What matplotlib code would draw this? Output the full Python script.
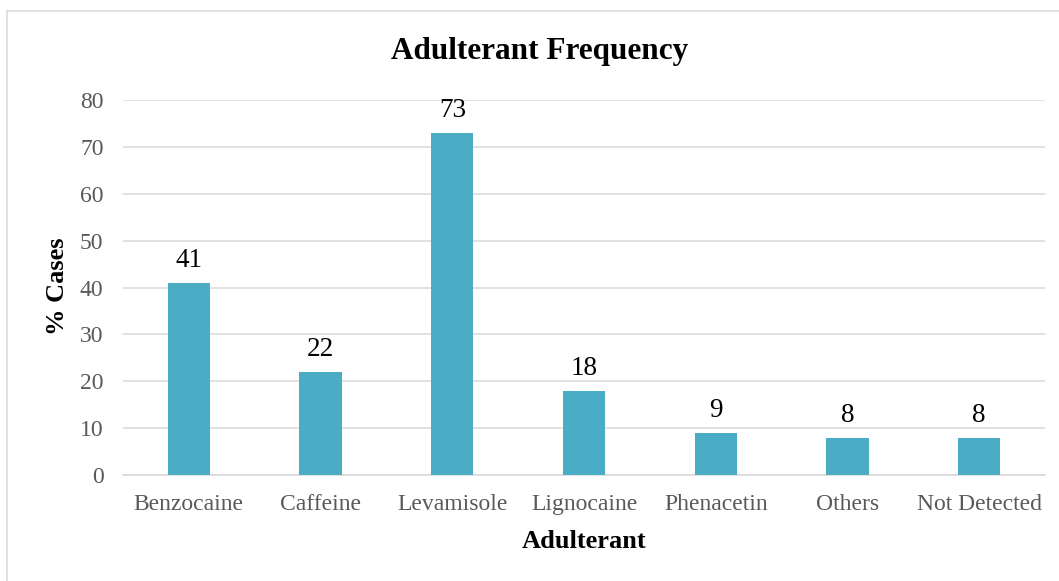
import matplotlib
matplotlib.use("Agg")
import matplotlib.pyplot as plt
from matplotlib.lines import Line2D

categories = ["Benzocaine", "Caffeine", "Levamisole", "Lignocaine", "Phenacetin", "Others", "Not Detected"]
values = [41, 22, 73, 18, 9, 8, 8]
yticks = [0, 10, 20, 30, 40, 50, 60, 70, 80]

plt.rcParams['font.family'] = ['Liberation Serif', 'DejaVu Serif']

W, H = 1059, 581
fig = plt.figure(figsize=(W/100, H/100), dpi=100)
ax = fig.add_axes([123/W, 1-475/H, (1045-123)/W, (475-100)/H])

x = range(len(categories))
ax.bar(x, values, width=0.32, color="#4BACC6", zorder=3)
for xi, v in zip(x, values):
    ax.annotate(str(v), (xi, v), xytext=(0, 7), textcoords="offset points",
                ha="center", va="bottom", fontsize=19.5, color="black")

ax.set_xlim(-0.5, len(categories)-0.5)
ax.set_ylim(0, 80)
ax.set_yticks(yticks)
ax.set_xticks(list(x))
ax.set_xticklabels(categories)
ax.yaxis.grid(True, color="#D9D9D9", linewidth=1.1, zorder=0)
ax.set_axisbelow(True)
for s in ["top", "right", "left"]:
    ax.spines[s].set_visible(False)
ax.spines["bottom"].set_color("#D9D9D9")
ax.spines["bottom"].set_linewidth(1.1)
ax.tick_params(axis="both", length=0, labelsize=17, labelcolor="#595959")
ax.tick_params(axis="x", pad=14)
ax.tick_params(axis="y", pad=14)

fig.text(540/W, 1-52/H, "Adulterant Frequency", ha="center", va="center",
         fontsize=22.5, fontweight="bold", color="black")
fig.text(584/W, 1-542/H, "Adulterant", ha="center", va="center",
         fontsize=19, fontweight="bold", color="black")
fig.text(58/W, 1-286/H, "% Cases", ha="center", va="center", rotation=90,
         fontsize=19, fontweight="bold", color="black")

# outer chart border (left and top visible)
fig.add_artist(Line2D([6.5/W, 6.5/W], [0, 1-10.5/H], transform=fig.transFigure,
                      color="#D9D9D9", linewidth=1.1))
fig.add_artist(Line2D([6.5/W, 1], [1-10.5/H, 1-10.5/H], transform=fig.transFigure,
                      color="#D9D9D9", linewidth=1.1))

fig.savefig("out.png", dpi=100)
